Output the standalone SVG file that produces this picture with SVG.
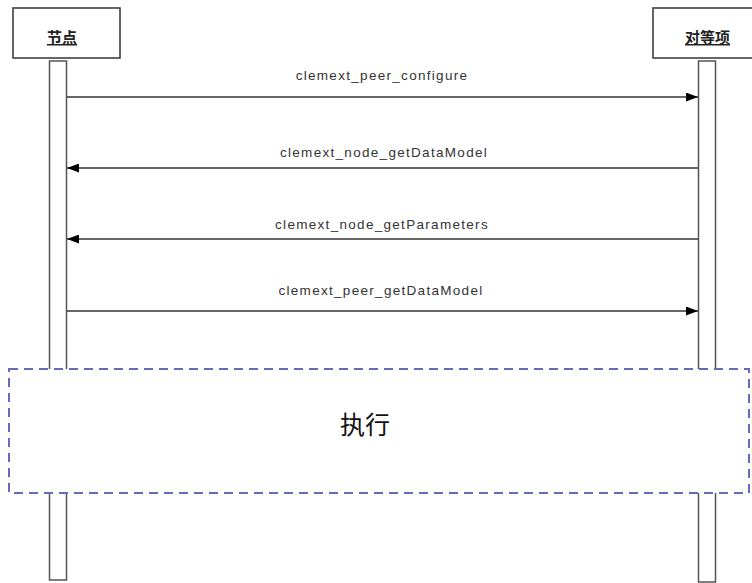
<svg xmlns="http://www.w3.org/2000/svg" width="752" height="583" viewBox="0 0 752 583">
<style>
.box{fill:#fff;stroke:#333;stroke-width:1.5}
.bar{fill:#fff;stroke:#555;stroke-width:1.5}
.msg{stroke:#333;stroke-width:1.5;fill:none}
.lbl{font-family:"Liberation Sans",Arial,sans-serif;font-size:13.5px;letter-spacing:1.3px;fill:#333;text-anchor:middle}
.nl{font-family:"Noto Sans CJK SC",sans-serif;font-size:15px;font-weight:bold;fill:#222;text-anchor:middle;text-decoration:underline}
.frame{fill:#fff;stroke:#6a6abb;stroke-width:2;stroke-dasharray:9 6}
</style>
<defs>
<marker id="ah" viewBox="0 0 12 9" refX="12" refY="4.5" markerWidth="12" markerHeight="9" markerUnits="userSpaceOnUse" orient="auto">
<path d="M0,0 L12,4.5 L0,9 Z" fill="#000"/>
</marker>
</defs>
<g id="node-left">
<rect class="box" x="13" y="8" width="107" height="50"/>
<text class="nl" x="62" y="43">节点</text>
<rect class="bar" x="49.5" y="61" width="17" height="519"/>
</g>
<g id="node-right">
<rect class="box" x="653" y="8" width="107" height="50"/>
<text class="nl" x="707.5" y="43">对等项</text>
<rect class="bar" x="698.5" y="61" width="17" height="521"/>
</g>
<g id="connectors">
<line class="msg" x1="67" y1="97" x2="698" y2="97" marker-end="url(#ah)"/>
<text class="lbl" x="382" y="80">clemext_peer_configure</text>
<line class="msg" x1="698" y1="168" x2="67" y2="168" marker-end="url(#ah)"/>
<text class="lbl" x="384" y="157">clemext_node_getDataModel</text>
<line class="msg" x1="698" y1="239" x2="67" y2="239" marker-end="url(#ah)"/>
<text class="lbl" x="382" y="229">clemext_node_getParameters</text>
<line class="msg" x1="67" y1="311" x2="698" y2="311" marker-end="url(#ah)"/>
<text class="lbl" x="381" y="295">clemext_peer_getDataModel</text>
</g>
<g id="exec-frame">
<rect class="frame" x="9" y="369" width="740" height="124"/>
<text x="365" y="434" font-family="'Noto Sans CJK SC',sans-serif" font-size="25" fill="#111" text-anchor="middle">执行</text>
</g>
</svg>
